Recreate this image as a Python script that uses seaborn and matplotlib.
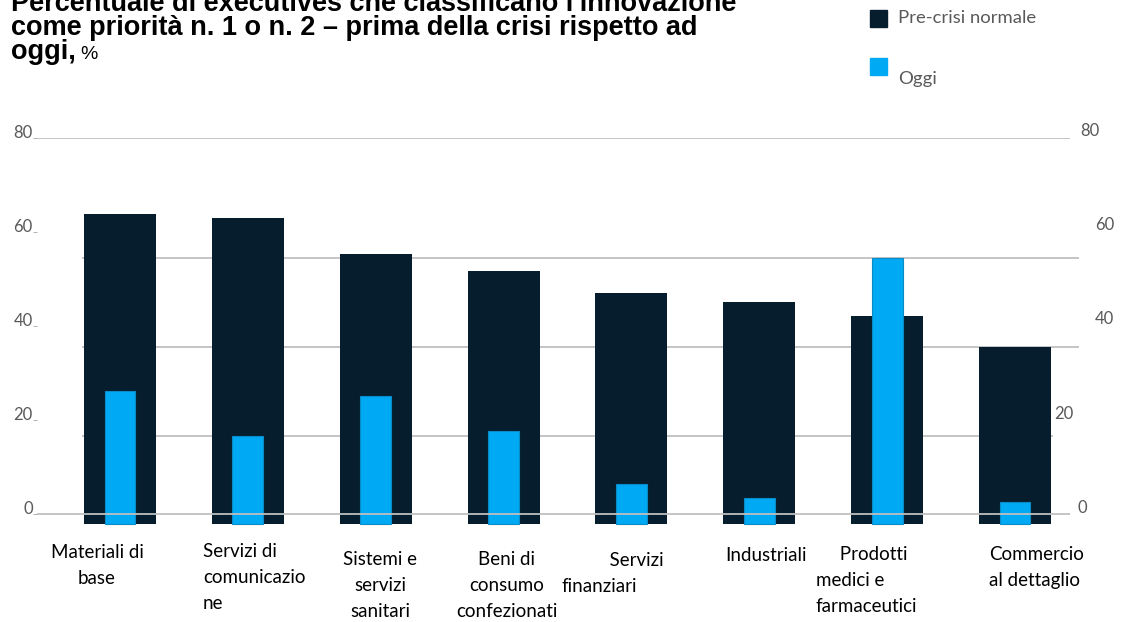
import matplotlib
matplotlib.use("Agg")
import matplotlib.pyplot as plt
import matplotlib.transforms as mtransforms
from matplotlib.patches import Rectangle
import seaborn as sns
import pandas as pd

# ---------------- data ----------------
categories = ["Materiali di base", "Servizi di comunicazione", "Sistemi e servizi sanitari",
              "Beni di consumo confezionati", "Servizi finanziari", "Industriali",
              "Prodotti medici e farmaceutici", "Commercio al dettaglio"]
tick_labels = ["Materiali di\nbase", "Servizi di\ncomunicazio\nne", "Sistemi e\nservizi\nsanitari",
               "Beni di\nconsumo\nconfezionati", "          Servizi\nfinanziari", "Industriali",
               "     Prodotti\nmedici e\nfarmaceutici", "Commercio\nal dettaglio"]
pre_crisi = [63.8, 62.9, 55.3, 51.7, 47.0, 45.0, 42.2, 35.6]
oggi = [26.1, 16.7, 25.2, 17.6, 6.4, 3.5, 54.4, 2.6]
y_ticks = [0, 20, 40, 60, 80]
series_names = ["Pre-crisi normale", "Oggi"]
title_lines = ["Percentuale di executives che classificano l'innovazione",
               "come priorità n. 1 o n. 2 – prima della crisi rispetto ad",
               "oggi,"]
title_unit = "%"

# ---------------- style ----------------
DARK = "#061D2E"
LIGHT = "#00A9F4"
LIGHT_EDGE = "#0A8BC8"
GRID = "#BFBFBF"
GRAY = "#595959"
W, H = 1128, 622

sns.set_style("white")
plt.rcParams["font.family"] = ["Lato", "DejaVu Sans"]

fig = plt.figure(figsize=(W / 100, H / 100), dpi=100)
ax = fig.add_axes([37 / W, 1 - 528.4 / H, 1033 / W, (528.4 - 137.7) / H])

df = pd.DataFrame({"Settore": categories, series_names[0]: pre_crisi, series_names[1]: oggi})
sns.barplot(data=df, x="Settore", y=series_names[0], color=DARK, saturation=1,
            width=0.563, ax=ax, zorder=2, linewidth=0)
sns.barplot(data=df, x="Settore", y=series_names[1], color=LIGHT, saturation=1,
            width=0.242, ax=ax, zorder=3, edgecolor=LIGHT_EDGE, linewidth=0.8)

# bars extend slightly below the zero line, as in the reference
bar_floor = -2.0
for p in ax.patches:
    h = p.get_height()
    p.set_y(bar_floor)
    p.set_height(h - bar_floor)

ax.set_xlim(-0.649, 7.43)
ax.set_ylim(-3, 80)
for s in ax.spines.values():
    s.set_visible(False)
ax.set_xlabel("")
ax.set_ylabel("")

# reference lines
ax.axhline(80, color=GRID, lw=1.3, zorder=1)
ax.axhline(0, color=GRID, lw=1.3, zorder=4)
for lvl, x1 in [(pre_crisi[6] + 12.2, 7.5), (pre_crisi[7], 7.5), (oggi[1], 7.3)]:
    ax.hlines(lvl, -0.3, x1, color=GRID, lw=1.3, zorder=1, clip_on=False)

# left y tick labels
ax.set_yticks(y_ticks)
ax.set_yticklabels([str(v) for v in y_ticks], color=GRAY, fontsize=12)
ax.tick_params(axis="y", length=3, width=0.6, color="#A6A6A6", pad=0, left=True)
shift_up = mtransforms.ScaledTranslation(0, 0.065, fig.dpi_scale_trans)
for lab in ax.get_yticklabels():
    lab.set_transform(lab.get_transform() + shift_up)

# right y labels (irregular positions in the reference)
right_x_px = [1078, 1054, 1095, 1095, 1080]
for v, xp in zip(y_ticks, right_x_px):
    tr = mtransforms.blended_transform_factory(fig.transFigure, ax.transData) + shift_up
    ax.text(xp / W, v, str(v), transform=tr, color=GRAY, fontsize=12,
            ha="left", va="center", clip_on=False)

# x tick labels
ax.set_xticks(range(len(categories)))
ax.set_xticklabels([])
ax.tick_params(axis="x", length=0)
lab_style = [  # (x left/center px, top px, ha)
    (97, 544, "center"),
    (203, 543, "left"),
    (380, 551, "center"),
    (507, 551, "center"),
    (562, 552, "left"),
    (766, 547, "center"),
    (816, 546, "left"),
    (989, 546, "left"),
]
for txt, (xp, yp, ha) in zip(tick_labels, lab_style):
    fig.text(xp / W, 1 - yp / H, txt, ha=ha, va="top", fontsize=13.5, color="black",
             linespacing=1.66, multialignment="left" if ha == "left" else "center")

# title (cut at the top, as in the reference)
tfont = dict(family="Liberation Sans", fontweight="bold", fontsize=19.5, color="black")
fig.text(11 / W, 1 - 11 / H, title_lines[0], va="baseline", ha="left", **tfont)
fig.text(11 / W, 1 - 35 / H, title_lines[1], va="baseline", ha="left", **tfont)
t3 = fig.text(11 / W, 1 - 59 / H, title_lines[2], va="baseline", ha="left", **tfont)
fig.canvas.draw()
bb = t3.get_window_extent()
fig.text(bb.x1 / W + 4 / W, 1 - 59 / H, title_unit, va="baseline", ha="left",
         family="Liberation Sans", fontsize=14, color="black")

# legend
for (sy, col), name, ty in zip([(10, DARK), (58, LIGHT)], series_names, [18, 79]):
    fig.patches.append(Rectangle((870 / W, 1 - (sy + 17) / H), 17 / W, 17 / H,
                                 transform=fig.transFigure, color=col, figure=fig))
    fig.text(898 / W, 1 - ty / H, name, ha="left", va="center", fontsize=13.3, color=GRAY)

fig.savefig("out.png", dpi=100)
